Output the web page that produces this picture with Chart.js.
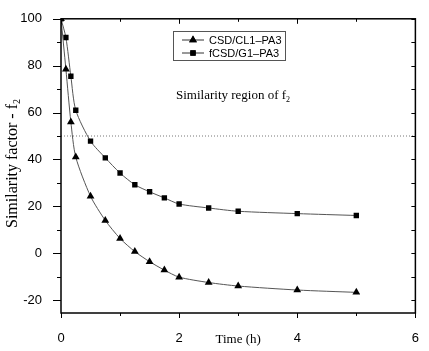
<!DOCTYPE html>
<html>
<head>
<meta charset="utf-8">
<script src="https://cdn.jsdelivr.net/npm/chart.js@4.4.1/dist/chart.umd.min.js"></script>
<style>
  html, body { margin: 0; padding: 0; background: #fff; }
  #wrap { width: 429px; height: 351px; }
</style>
</head>
<body>
<div id="wrap"><canvas id="chart"></canvas></div>
<script>
// time points (h)
const times = [0, 0.083, 0.167, 0.25, 0.5, 0.75, 1, 1.25, 1.5, 1.75, 2, 2.5, 3, 4, 5];
const csdCl1 = [100, 78.5, 56, 41, 24.3, 14, 6.3, 0.7, -3.6, -7.2, -10.2, -12.5, -14, -15.7, -16.7];
const fcsdG1 = [100, 92, 75.5, 61, 47.8, 40.7, 34.2, 29.2, 26.2, 23.6, 21, 19.3, 17.9, 16.9, 16.1];
const seriesLabels = ["CSD/CL1\u2013PA3", "fCSD/G1\u2013PA3"];
const similarityLimit = 50;
const xTicks = [0, 2, 4, 6];
const yTicks = [-20, 0, 20, 40, 60, 80, 100];

const SANS = "'Liberation Sans', Arial, sans-serif";
const SERIF = "'Liberation Serif', 'Times New Roman', serif";

const toPoints = ys => times.map((t, i) => ({ x: t, y: ys[i] }));

// text with a small subscript after it, left aligned at x
function textWithSub(ctx, text, sub, x, y, size, subSize, drop) {
    ctx.font = size + "px " + SERIF;
    ctx.fillText(text, x, y);
    const w = ctx.measureText(text).width;
    ctx.font = subSize + "px " + SERIF;
    ctx.fillText(sub, x + w, y + drop);
    return w + ctx.measureText(sub).width;
}

// frame, minor/major ticks, axis titles, legend box and annotation
const decorPlugin = {
    id: "decor",
    afterDraw(chart) {
        const { ctx, chartArea: a, scales } = chart;
        const xs = scales.x, ys = scales.y;
        ctx.save();
        ctx.strokeStyle = "#000";
        ctx.lineWidth = 1.5;
        ctx.strokeRect(a.left, a.top, a.right - a.left, a.bottom - a.top);

        ctx.lineWidth = 1;
        ctx.beginPath();
        for (let v = 0; v <= 6; v += 1) {
            const px = Math.round(xs.getPixelForValue(v)) + 0.5;
            const len = v % 2 === 0 ? 5 : 3;
            ctx.moveTo(px, a.bottom); ctx.lineTo(px, a.bottom + len);
            ctx.moveTo(px, a.top); ctx.lineTo(px, a.top + len);
        }
        for (let v = -20; v <= 100; v += 10) {
            const py = Math.round(ys.getPixelForValue(v)) + 0.5;
            const len = v % 20 === 0 ? 8 : 4;
            ctx.moveTo(a.left, py); ctx.lineTo(a.left - len, py);
            ctx.moveTo(a.right, py); ctx.lineTo(a.right - 4, py);
        }
        ctx.stroke();

        ctx.fillStyle = "#000";
        ctx.textBaseline = "middle";

        // x title
        ctx.font = "13px " + SERIF;
        ctx.textAlign = "center";
        ctx.fillText("Time (h)", (a.left + a.right) / 2, 340);

        // y title
        ctx.save();
        ctx.translate(13, 163);
        ctx.rotate(-Math.PI / 2);
        ctx.textAlign = "left";
        ctx.font = "16px " + SERIF;
        const yw = ctx.measureText("Similarity factor - f").width + 6;
        textWithSub(ctx, "Similarity factor - f", "2", -yw / 2, 0, 16, 10, 4);
        ctx.restore();

        // annotation text
        ctx.textAlign = "left";
        textWithSub(ctx, "Similarity region of f", "2", 176, 96, 13, 8, 4);

        // legend
        ctx.strokeStyle = "#555";
        ctx.lineWidth = 1;
        ctx.strokeRect(173.5, 31.5, 112, 29);
        const styles = ["triangle", "rect"];
        [40, 53].forEach((ly, i) => {
            ctx.strokeStyle = "#333";
            ctx.beginPath();
            ctx.moveTo(182, ly); ctx.lineTo(204, ly);
            ctx.stroke();
            ctx.fillStyle = "#000";
            Chart.helpers.drawPoint(ctx, { pointStyle: styles[i], radius: i === 0 ? 4.5 : 3.8, borderWidth: 0 }, 193, ly);
            ctx.fill();
            ctx.font = "11px " + SANS;
            ctx.fillText(seriesLabels[i], 209, ly + 0.5);
        });
        ctx.restore();
    }
};

new Chart(document.getElementById("chart"), {
    type: "line",
    data: {
        datasets: [
            {
                label: seriesLabels[0],
                data: toPoints(csdCl1),
                borderColor: "#555",
                borderWidth: 1,
                backgroundColor: "#000",
                pointStyle: "triangle",
                pointRadius: 4.5,
                pointBorderWidth: 0,
                tension: 0.25
            },
            {
                label: seriesLabels[1],
                data: toPoints(fcsdG1),
                borderColor: "#555",
                borderWidth: 1,
                backgroundColor: "#000",
                pointStyle: "rect",
                pointRadius: 3.8,
                pointBorderWidth: 0,
                tension: 0.25
            },
            {
                label: "limit",
                data: [{ x: 0, y: similarityLimit }, { x: 6, y: similarityLimit }],
                borderColor: "#777",
                borderWidth: 1,
                borderDash: [1, 2],
                pointRadius: 0
            }
        ]
    },
    options: {
        responsive: true,
        maintainAspectRatio: false,
        animation: false,
        layout: { padding: { top: 12, right: 8, left: 0, bottom: 0 } },
        plugins: { legend: { display: false }, tooltip: { enabled: false } },
        scales: {
            x: {
                type: "linear",
                min: 0,
                max: 6,
                afterFit: s => { s.height = 38; },
                afterBuildTicks: s => { s.ticks = xTicks.map(v => ({ value: v })); },
                grid: { display: false },
                border: { display: false },
                ticks: { padding: 10, color: "#000", font: { family: SANS, size: 13 } }
            },
            y: {
                min: -25.5,
                max: 100,
                afterFit: s => { s.width = 61; },
                afterBuildTicks: s => { s.ticks = yTicks.map(v => ({ value: v })); },
                grid: { display: false },
                border: { display: false },
                ticks: { padding: 11, color: "#000", font: { family: SANS, size: 13 } }
            }
        }
    },
    plugins: [decorPlugin]
});
</script>
</body>
</html>
